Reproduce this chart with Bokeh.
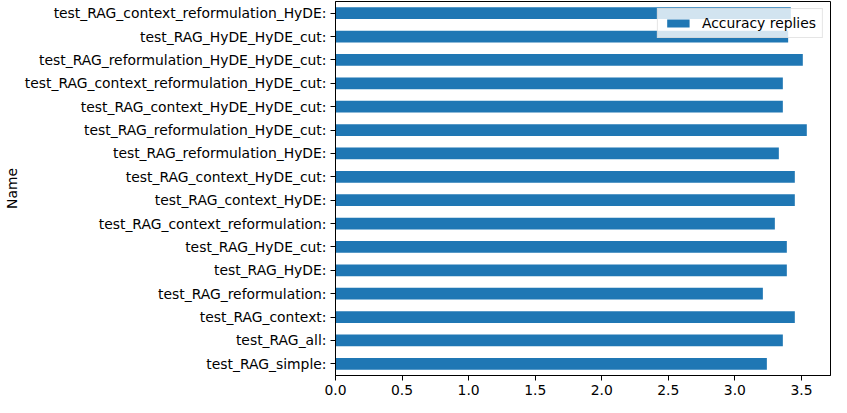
from bokeh.plotting import figure
from bokeh.models import FactorRange, Range1d, FixedTicker, NumeralTickFormatter, ColumnDataSource, Legend, LegendItem
from bokeh.embed import file_html
from bokeh.resources import INLINE

names = [
    "test_RAG_simple:",
    "test_RAG_all:",
    "test_RAG_context:",
    "test_RAG_reformulation:",
    "test_RAG_HyDE:",
    "test_RAG_HyDE_cut:",
    "test_RAG_context_reformulation:",
    "test_RAG_context_HyDE:",
    "test_RAG_context_HyDE_cut:",
    "test_RAG_reformulation_HyDE:",
    "test_RAG_reformulation_HyDE_cut:",
    "test_RAG_context_HyDE_HyDE_cut:",
    "test_RAG_context_reformulation_HyDE_cut:",
    "test_RAG_reformulation_HyDE_HyDE_cut:",
    "test_RAG_HyDE_HyDE_cut:",
    "test_RAG_context_reformulation_HyDE:",
]
accuracy = [3.24, 3.36, 3.45, 3.21, 3.39, 3.39, 3.30, 3.45, 3.45, 3.33, 3.54, 3.36, 3.36, 3.51, 3.40, 3.42]
x_ticks = [0.0, 0.5, 1.0, 1.5, 2.0, 2.5, 3.0, 3.5]

src = ColumnDataSource(dict(name=names, acc=accuracy))

p = figure(width=831, height=397, y_range=FactorRange(*names), x_range=Range1d(0, 3.718),
           output_backend="svg", toolbar_location=None,
           min_border_left=333, min_border_right=1, min_border_top=1, min_border_bottom=18)

r = p.hbar(y="name", right="acc", left=0, height=0.5, source=src, color="#1f77b4", line_color=None)

font_px = "13.9px"
for ax in (p.xaxis[0], p.yaxis[0]):
    ax.major_label_text_font = "DejaVu Sans"
    ax.major_label_text_font_size = font_px
    ax.major_label_text_color = "black"
    ax.axis_line_color = "black"
    ax.major_tick_line_color = "black"
    ax.major_tick_out = 5
    ax.major_tick_in = 0
    ax.minor_tick_line_color = None

p.xaxis.ticker = FixedTicker(ticks=x_ticks)
p.xaxis.formatter = NumeralTickFormatter(format="0.0")
p.xaxis.major_label_standoff = 4
p.xaxis.major_label_text_line_height = 0.9
p.xaxis.axis_label_standoff = 0
p.xaxis.axis_label_text_font_size = "0px"
p.yaxis.major_label_standoff = 4
p.yaxis.axis_label = "Name"
p.yaxis.axis_label_text_font = "DejaVu Sans"
p.yaxis.axis_label_text_font_size = font_px
p.yaxis.axis_label_text_font_style = "normal"
p.yaxis.axis_label_text_color = "black"
p.yaxis.axis_label_standoff = 2

p.xgrid.grid_line_color = None
p.ygrid.grid_line_color = None
p.outline_line_color = "black"
p.outline_line_width = 1
p.outline_line_alpha = 1

legend = Legend(items=[LegendItem(label="Accuracy replies", renderers=[r])], location="top_right")
legend.label_text_font = "DejaVu Sans"
legend.label_text_font_size = font_px
legend.label_text_color = "black"
legend.border_line_color = "#cccccc"
legend.background_fill_alpha = 0.8
legend.margin = 7
legend.padding = 6
legend.spacing = 0
legend.glyph_width = 28
legend.glyph_height = 10
legend.label_standoff = 10
legend.label_height = 14
p.add_layout(legend)

open("out.html", "w").write(file_html(p, INLINE))
